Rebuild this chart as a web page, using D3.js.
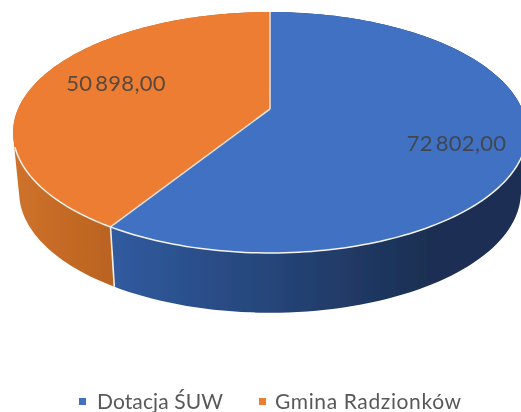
<!DOCTYPE html>
<html>
<head>
<meta charset="utf-8">
<script src="https://cdn.jsdelivr.net/npm/d3@7"></script>
<style>
  html, body { margin: 0; padding: 0; background: #fff; overflow: hidden; }
  text { font-family: Lato, "Open Sans", sans-serif; }
</style>
</head>
<body>
<div id="chart"></div>
<script>
const categories = ["Dotacja ŚUW", "Gmina Radzionków"];
const values = [72802, 50898];
const valueLabels = ["72 802,00", "50 898,00"];
const topColors = ["#4171c2", "#ec7d31"];
const sideStops = [["#305a9e", "#1b2f52"], ["#cf722b", "#b9621f"]];

let svg = d3.select("#chart").append("svg")
    .attr("width", 521).attr("height", 412);

let defs = svg.append("defs");
defs.append("filter").attr("id", "soft")
    .append("feGaussianBlur").attr("stdDeviation", 0.45);

// side gradients run left to right
sideStops.forEach((stops, i) => {
    let grad = defs.append("linearGradient").attr("id", "side" + i)
        .attr("gradientUnits", "userSpaceOnUse")
        .attr("x1", i == 0 ? 117 : 13).attr("x2", i == 0 ? 430 : 117)
        .attr("y1", 0).attr("y2", 0);
    grad.append("stop").attr("offset", 0).attr("stop-color", stops[0]);
    grad.append("stop").attr("offset", 1).attr("stop-color", stops[1]);
});

// perspective: far edge of the disc is squeezed, so the centre sits above the ellipse middle
function project(angle, rim) {
    let w = 1 + rim.k * Math.cos(angle);
    return [rim.cx + rim.rx * Math.sin(angle) / w, rim.cy - rim.ry * Math.cos(angle) / w];
}
const topRim = { cx: 270, cy: 109, rx: 252, ry: 115.9, k: 0.195 };
const bottomRim = { cx: 270, cy: 169, rx: 246, ry: 115.7, k: 0.195 };

let slices = d3.pie().sort(null)(values);
let line = d3.line();

function rimPoints(from, to, rim) {
    let n = 120;
    return d3.range(n + 1).map(i => project(from + (to - from) * i / n, rim));
}

let pie = svg.append("g").attr("filter", "url(#soft)");

// sides first: one path of small quads, all wound the same way, so the
// outline follows the tangent between both rims and no seams show
slices.forEach((s, i) => {
    let upper = rimPoints(s.startAngle, s.endAngle, topRim);
    let lower = rimPoints(s.startAngle, s.endAngle, bottomRim);
    let d = d3.range(upper.length - 1).map(j => {
        let quad = [upper[j], upper[j + 1], lower[j + 1], lower[j]];
        if (d3.polygonArea(quad) < 0) quad.reverse();
        return line(quad) + "Z";
    }).join("");
    pie.append("path")
        .attr("d", d)
        .attr("fill", `url(#side${i})`);
});

// light seam between the two sides
let seamAngle = slices[0].endAngle;
pie.append("path")
    .attr("d", line([project(seamAngle, topRim), project(seamAngle, bottomRim)]))
    .attr("stroke", "#f4efe9").attr("stroke-width", 1.6).attr("fill", "none");

// top face
slices.forEach((s, i) => {
    let pts = [[topRim.cx, topRim.cy]].concat(rimPoints(s.startAngle, s.endAngle, topRim));
    pie.append("path")
        .attr("d", line(pts) + "Z")
        .attr("fill", topColors[i]);
});

// radial edges
slices.forEach(s => {
    pie.append("path")
        .attr("d", line([[topRim.cx, topRim.cy], project(s.startAngle, topRim)]))
        .attr("stroke", "#e6ded8").attr("stroke-width", 1.6).attr("fill", "none");
});

// the white rim only shows on the front of the disc
pie.append("path")
    .attr("d", line(rimPoints(105 * Math.PI / 180, 252 * Math.PI / 180, topRim)))
    .attr("stroke", "#f6f2ee").attr("stroke-width", 1.5).attr("fill", "none");

// data labels
let labelPos = [[456.5, 151], [116, 91]];
valueLabels.forEach((t, i) => {
    svg.append("text")
        .attr("x", labelPos[i][0]).attr("y", labelPos[i][1])
        .attr("text-anchor", "middle")
        .attr("font-size", 22)
        .attr("word-spacing", -3)
        .attr("letter-spacing", 0.3)
        .attr("fill", "#404040").attr("fill-opacity", 0.85)
        .attr("filter", "url(#soft)")
        .text(t);
});

// legend
let legendX = [79, 259];
let legendTextX = [97, 275];
let legendWidth = [126, 186];
categories.forEach((c, i) => {
    svg.append("rect")
        .attr("x", legendX[i]).attr("y", 398)
        .attr("width", 7).attr("height", 7)
        .attr("fill", topColors[i]);
    svg.append("text")
        .attr("x", legendTextX[i]).attr("y", 409)
        .attr("font-size", 21)
        .attr("textLength", legendWidth[i])
        .attr("fill", "#595959")
        .attr("filter", "url(#soft)")
        .text(c);
});
</script>
</body>
</html>
